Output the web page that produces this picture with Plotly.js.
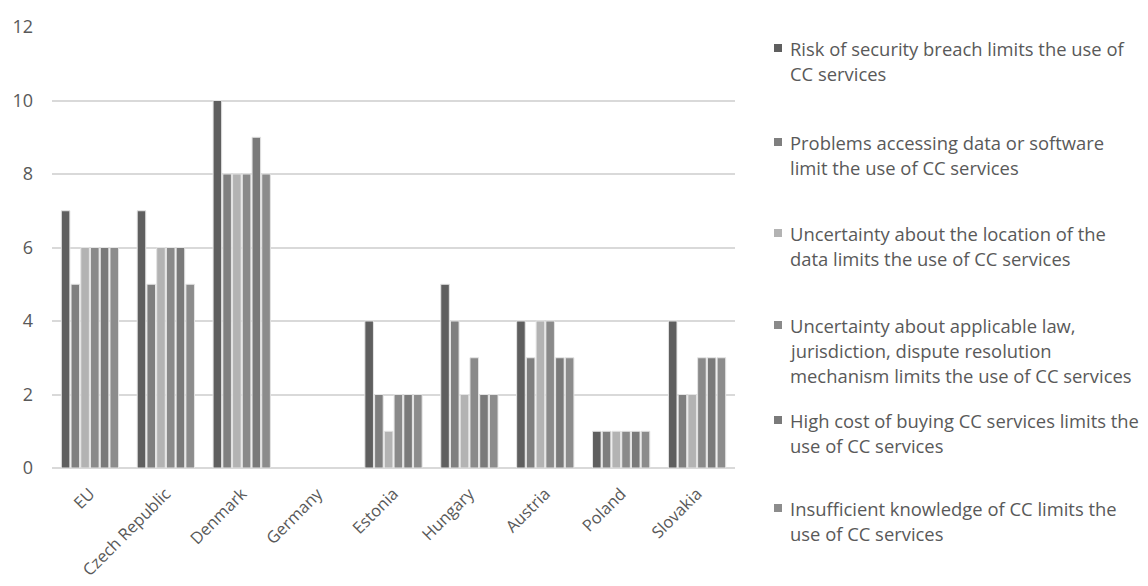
<!DOCTYPE html>
<html>
<head>
<meta charset="utf-8">
<script src="https://cdn.plot.ly/plotly-3.0.1.min.js"></script>
<style>
  html, body { margin: 0; padding: 0; background: #ffffff; }
  #chart { width: 1148px; height: 586px; }
</style>
</head>
<body>
<div id="chart"></div>
<script>
// Countries along the x axis
const countries = ['EU', 'Czech Republic', 'Denmark', 'Germany', 'Estonia', 'Hungary', 'Austria', 'Poland', 'Slovakia'];

// One value list per limiting factor (Germany has no data)
const securityBreach   = [7, 7, 10, null, 4, 5, 4, 1, 4];
const accessProblems   = [5, 5, 8,  null, 2, 4, 3, 1, 2];
const dataLocation     = [6, 6, 8,  null, 1, 2, 4, 1, 2];
const applicableLaw    = [6, 6, 8,  null, 2, 3, 4, 1, 3];
const highCost         = [6, 6, 9,  null, 2, 2, 3, 1, 3];
const lackOfKnowledge  = [6, 5, 8,  null, 2, 2, 3, 1, 3];

// Series names, with the line breaks used in the legend
const seriesNames = [
  'Risk of security breach limits the use of<br>CC services',
  'Problems accessing data or software<br>limit the use of CC services',
  'Uncertainty about the location of the<br>data limits the use of CC services',
  'Uncertainty about applicable law,<br>jurisdiction, dispute resolution<br>mechanism limits the use of CC services',
  'High cost of buying CC services limits the<br>use of CC services',
  'Insufficient knowledge of CC limits the<br>use of CC services'
];
const seriesValues = [securityBreach, accessProblems, dataLocation, applicableLaw, highCost, lackOfKnowledge];
const seriesColors = ['#5f5f5f', '#7f7f7f', '#b3b3b3', '#8a8a8a', '#7a7a7a', '#8c8c8c'];

// Y axis ticks
const yTicks = [0, 2, 4, 6, 8, 10, 12];

const FONT = '"Open Sans", Lato, sans-serif';
const TEXT_COLOR = '#595959';

const traces = seriesValues.map((vals, i) => ({
  type: 'bar',
  name: seriesNames[i].replace(/<br>/g, ' '),
  x: countries,
  y: vals,
  marker: { color: seriesColors[i], line: { color: '#e4e4e4', width: 1 } },
  showlegend: false,
  hoverinfo: 'x+y+name'
}));

// Plot area in pixels
const W = 1148, H = 586;
const M = { l: 52, r: W - 735, t: 27, b: H - 468 };
const plotW = W - M.l - M.r, plotH = H - M.t - M.b;
const px2x = px => (px - M.l) / plotW;
const py2y = py => (H - M.b - py) / plotH;

// Legend block drawn at the right: swatch + wrapped label lines
const legendFirstLine = [48, 142, 233, 325, 420, 508];
const legendLineStep = 25;
const swatchX = 774, textX = 788, swatch = 8;

const annotations = [];
const shapes = [];
seriesNames.forEach((name, i) => {
  const lines = name.split('<br>');
  lines.forEach((ln, j) => {
    annotations.push({
      xref: 'paper', yref: 'paper',
      x: px2x(textX), y: py2y(legendFirstLine[i] + j * legendLineStep),
      xanchor: 'left', yanchor: 'middle',
      text: ln, showarrow: false, align: 'left',
      font: { family: FONT, size: 18.4, color: TEXT_COLOR }
    });
  });
  const cy = legendFirstLine[i];
  shapes.push({
    type: 'rect', xref: 'paper', yref: 'paper',
    x0: px2x(swatchX), x1: px2x(swatchX + swatch),
    y0: py2y(cy + swatch / 2), y1: py2y(cy - swatch / 2),
    fillcolor: seriesColors[i], line: { width: 0 }
  });
});

const layout = {
  width: W, height: H,
  margin: M,
  paper_bgcolor: '#ffffff', plot_bgcolor: '#ffffff',
  barmode: 'group',
  bargap: 0.23,
  bargroupgap: 0.12,
  showlegend: false,
  font: { family: FONT, size: 17, color: TEXT_COLOR },
  xaxis: {
    type: 'category',
    tickangle: -45,
    showgrid: false, showline: false, zeroline: false,
    ticks: '',
    ticklabelstandoff: 12,
    tickfont: { family: FONT, size: 16.5, color: TEXT_COLOR }
  },
  yaxis: {
    range: [0, 12],
    tickvals: yTicks,
    ticktext: yTicks.map(String),
    showgrid: true, gridcolor: '#d9d9d9', gridwidth: 1.5,
    zeroline: true, zerolinecolor: '#d9d9d9', zerolinewidth: 2,
    showline: false, ticks: '',
    ticklabelstandoff: 18,
    tickfont: { family: FONT, size: 18, color: TEXT_COLOR }
  },
  annotations: annotations,
  shapes: shapes
};

Plotly.newPlot('chart', traces, layout, { displayModeBar: false, responsive: false });
</script>
</body>
</html>
